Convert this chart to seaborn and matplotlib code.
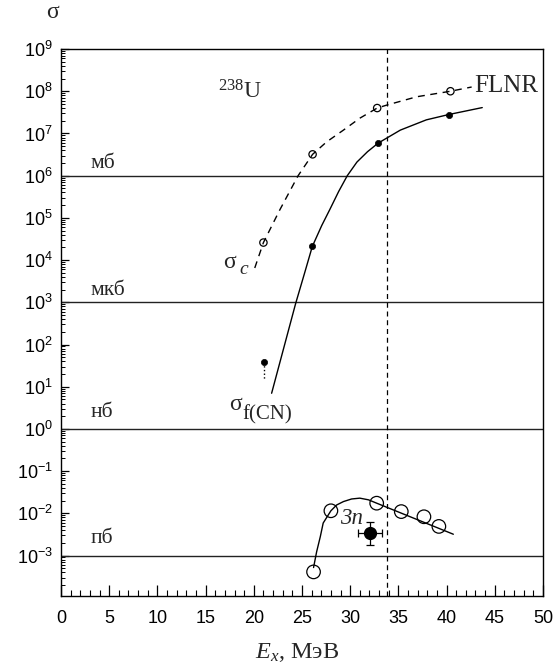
import numpy as np
import matplotlib
matplotlib.use('Agg')
import matplotlib.pyplot as plt
import seaborn as sns
from matplotlib.ticker import LogLocator, MultipleLocator, NullFormatter

# sigma_c : open circles + dashed curve
sc_e = [21.0, 26.1, 32.8, 40.4]
sc_s = [2.6e4, 3.2e6, 4.0e7, 1.0e8]
sc_line_e = [20.1, 21.0, 22.7, 24.6, 26.1, 27.55, 29.3, 31.0, 32.8, 33.8, 36.9, 40.4, 42.6]
sc_line_s = [6.5e3, 2.6e4, 1.55e5, 1.0e6, 3.2e6, 6.3e6, 1.2e7, 2.3e7, 4.0e7, 4.7e7, 7.4e7, 1.0e8, 1.26e8]

# sigma_f(CN) : filled dots + solid curve
sf_e = [21.1, 26.07, 32.9, 40.2]
sf_s = [39, 2.1e4, 5.9e6, 2.8e7]
sf_line_e = [21.85, 24.35, 25.3, 26.07, 27.05, 27.9, 28.8, 29.7, 30.7, 31.8, 32.9, 35.2, 37.9, 40.2, 43.7]
sf_line_s = [7.0, 9.5e2, 5.2e3, 2.1e4, 6.6e4, 1.6e5, 4.2e5, 1.0e6, 2.1e6, 3.7e6, 5.9e6, 1.2e7, 2.1e7, 2.8e7, 4.1e7]
sf_tail_e = [21.1, 21.1]
sf_tail_s = [39, 14.5]

# 3n : open circles + curve, one measured point with errors
n3_e = [26.2, 28.0, 32.75, 35.3, 37.65, 39.2]
n3_s = [4.1e-4, 1.15e-2, 1.74e-2, 1.1e-2, 8.3e-3, 4.9e-3]
n3_line_e = [26.2, 26.52, 26.9, 27.2, 28.0, 28.6, 29.3, 30.15, 31.0, 31.9, 32.75, 40.7]
n3_line_s = [5.2e-4, 1.23e-3, 2.8e-3, 5.9e-3, 1.15e-2, 1.58e-2, 1.9e-2, 2.19e-2, 2.29e-2, 2.09e-2, 1.74e-2, 3.2e-3]
meas_e = [32.05]
meas_s = [3.4e-3]
meas_yerr = [[1.6e-3], [2.8e-3]]
meas_xerr = [1.2]

levels = [1e6, 1e3, 1e0, 1e-3]
level_names = ['мб', 'мкб', 'нб', 'пб']
e_barrier = 33.8

sns.set_style('ticks')
plt.rcParams['font.family'] = ['Liberation Sans', 'DejaVu Sans']
plt.rcParams['mathtext.fontset'] = 'custom'
plt.rcParams['mathtext.rm'] = 'Liberation Serif'
plt.rcParams['mathtext.it'] = 'Liberation Serif:italic'
serif = 'Liberation Serif'

fig = plt.figure(figsize=(5.54, 6.69), dpi=100)
ax = fig.add_axes([0.1101, 0.1091, 0.870, 0.8176])
ax.set_yscale('log')

for lv in levels:
    ax.axhline(lv, color='#222222', lw=1.0, zorder=1)
ax.axvline(e_barrier, color='k', lw=0.9, linestyle=(0, (4, 3)), zorder=1)

sns.lineplot(x=sc_line_e, y=sc_line_s, ax=ax, color='k', lw=1.0,
             linestyle=(0, (5, 4)), sort=False, estimator=None)
sns.lineplot(x=sf_line_e, y=sf_line_s, ax=ax, color='k', lw=1.0,
             sort=False, estimator=None)
sns.lineplot(x=sf_tail_e, y=sf_tail_s, ax=ax, color='k', lw=1.0,
             linestyle=':', sort=False, estimator=None)
sns.lineplot(x=n3_line_e, y=n3_line_s, ax=ax, color='k', lw=1.0,
             sort=False, estimator=None)

sns.scatterplot(x=sc_e, y=sc_s, ax=ax, marker='o', s=28, facecolor='none',
                edgecolor='k', linewidth=0.9, zorder=3)
sns.scatterplot(x=sf_e, y=sf_s, ax=ax, marker='o', s=20, color='k',
                edgecolor='k', linewidth=0.5, zorder=3)
sns.scatterplot(x=n3_e, y=n3_s, ax=ax, marker='o', s=95, facecolor='none',
                edgecolor='k', linewidth=0.9, zorder=3)
ax.errorbar(meas_e, meas_s, yerr=meas_yerr, xerr=meas_xerr, fmt='o', color='k',
            ms=8.5, elinewidth=0.9, capsize=3, capthick=0.9, zorder=4)

ax.set_xlim(0, 50)
ax.set_ylim(1.1e-4, 1e9)
ax.xaxis.set_major_locator(MultipleLocator(5))
ax.xaxis.set_minor_locator(MultipleLocator(1))
ax.yaxis.set_major_locator(LogLocator(base=10, numticks=30))
ax.yaxis.set_minor_locator(LogLocator(base=10, subs=np.arange(2, 10), numticks=30))
ax.yaxis.set_minor_formatter(NullFormatter())
ax.tick_params(which='both', direction='in', top=False, right=False, colors='k')
ax.tick_params(axis='x', which='major', length=8, width=0.9, pad=10, labelsize=13)
ax.tick_params(axis='x', which='minor', length=4.3, width=0.8)
ax.tick_params(axis='y', which='major', length=6, width=0.9, pad=6, labelsize=13)
ax.tick_params(axis='y', which='minor', length=3, width=0.7)
for sp in ax.spines.values():
    sp.set_linewidth(1.0)
    sp.set_color('k')
ax.set_xlabel('')
ax.set_ylabel('')

# level names
name_y = [10**6.18, 10**3.17, 10**0.28, 10**-2.71]
for nm, yy in zip(level_names, name_y):
    ax.text(3.1, yy, nm, family=serif, fontsize=15.5, va='baseline')

ax.text(16.3, 10**7.83, r'$^{238}$U', family=serif, fontsize=17, va='baseline')
ax.text(42.85, 10**7.99, 'FLNR', family=serif, fontsize=18, va='baseline')
ax.text(16.8, 10**3.81, 'σ', family=serif, fontsize=17, va='baseline')
ax.text(18.5, 10**3.67, 'c', family=serif, style='italic', fontsize=14, va='baseline')
ax.text(17.4, 10**0.45, 'σ', family=serif, fontsize=17, va='baseline')
ax.text(18.8, 10**0.23, 'f(CN)', family=serif, fontsize=15, va='baseline')
ax.text(28.9, 10**-2.25, '3n', family=serif, style='italic', fontsize=16.5, va='baseline')

fig.text(46 / 554, 1 - 18 / 669, 'σ', family=serif, fontsize=17, va='baseline')
fig.text(297 / 554, 1 - 658 / 669, r'$E_x$, МэВ', family=serif, fontsize=17.5,
         ha='center', va='baseline')

fig.savefig('out.png', dpi=100)
